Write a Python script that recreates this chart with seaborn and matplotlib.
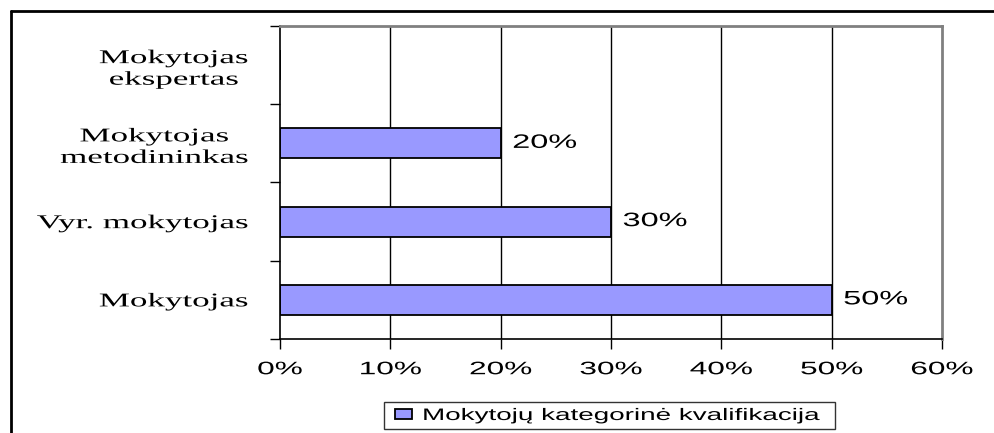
import matplotlib
matplotlib.use("Agg")
import matplotlib.pyplot as plt
import seaborn as sns
import pandas as pd
from matplotlib.lines import Line2D
from matplotlib.patches import Patch
from matplotlib.legend_handler import HandlerPatch
from matplotlib.patheffects import AbstractPathEffect
from matplotlib.transforms import Affine2D

categories = ["Mokytojas\nekspertas", "Mokytojas\nmetodininkas", "Vyr. mokytojas", "Mokytojas"]
values = [0, 20, 30, 50]
value_labels = ["", "20%", "30%", "50%"]
x_ticks = [0, 10, 20, 30, 40, 50, 60]
x_tick_labels = ["0%", "10%", "20%", "30%", "40%", "50%", "60%"]
legend_label = "Mokytojų kategorinė kvalifikacija"


class Stretch(AbstractPathEffect):
    """Horizontally widen the rendered glyphs about a fixed display x."""
    def __init__(self, sx, x0):
        super().__init__()
        self.sx = sx
        self.x0 = x0

    def draw_path(self, renderer, gc, tpath, affine, rgbFace=None):
        t = affine + Affine2D().translate(-self.x0, 0).scale(self.sx, 1).translate(self.x0, 0)
        renderer.draw_path(gc, tpath, t, rgbFace)


df = pd.DataFrame({"cat": categories, "val": values})

sns.set_theme(style="white")
plt.rcParams["font.family"] = ["Liberation Sans", "DejaVu Sans"]

W, H = 995, 433
fig = plt.figure(figsize=(W / 100, H / 100), dpi=100)
ax = fig.add_axes([280 / W, 1 - 339 / H, (942 - 280) / W, (339 - 26) / H])

sns.barplot(data=df, x="val", y="cat", orient="h", order=categories,
            color="#9999FF", edgecolor="black", linewidth=1.3,
            width=0.385, saturation=1, ax=ax)

ax.set_xlim(0, 60)
ax.set_ylim(3.5, -0.5)
ax.set_xticks(x_ticks)
ax.set_xticklabels(x_tick_labels, fontsize=13)
ax.tick_params(axis="x", length=7, width=1, color="black", pad=9, direction="out",
               bottom=True, labelcolor="black")
for xv in x_ticks[1:-1]:
    ax.axvline(xv, color="black", lw=1, zorder=0)
ax.set_yticks(range(len(categories)))
ax.set_yticklabels(categories, fontsize=14, family=["Liberation Serif", "DejaVu Serif"],
                   multialignment="center", linespacing=1.35)
ax.tick_params(axis="y", which="major", length=0, pad=21.6, labelcolor="black")
ax.set_yticks([-0.5, 0.5, 1.5, 2.5, 3.5], minor=True)
ax.tick_params(axis="y", which="minor", length=7, width=1, color="black", direction="out", left=True)
ax.set_xlabel("")
ax.set_ylabel("")

for s in ["left", "bottom"]:
    ax.spines[s].set_color("black")
    ax.spines[s].set_linewidth(1.2)
for s in ["top", "right"]:
    ax.spines[s].set_color("#808080")
    ax.spines[s].set_linewidth(2)

ann = []
for i, (v, lab) in enumerate(zip(values, value_labels)):
    if lab:
        ann.append(ax.annotate(lab, xy=(v, i), xytext=(8.3, 0), textcoords="offset points",
                               ha="left", va="center", fontsize=14, color="black"))

handle = Patch(facecolor="#9999FF", edgecolor="black", linewidth=1.3)
leg = fig.legend([handle], [legend_label], loc="center",
                 bbox_to_anchor=(384 / W, 1 - 431 / H, (835 - 384) / W, 31 / H),
                 mode="expand", borderaxespad=0,
                 handler_map={Patch: HandlerPatch(xpad=0.3)},
                 fontsize=12, frameon=True, fancybox=False, edgecolor="black",
                 handlelength=1.32, handleheight=0.55, handletextpad=0.6, borderpad=0.36)
leg.get_frame().set_linewidth(1)
for t in leg.get_texts():
    t.set_color("black")

fig.add_artist(Line2D([11 / W, 11 / W], [0, 1 - 11 / H], color="black", lw=2, transform=fig.transFigure))
fig.add_artist(Line2D([11 / W, 1], [1 - 11 / H, 1 - 11 / H], color="black", lw=2, transform=fig.transFigure))

# widen glyphs horizontally like the reference rendering
fig.canvas.draw()
r = fig.canvas.get_renderer()
for t in ax.get_xticklabels():
    bb = t.get_window_extent(r)
    t.set_path_effects([Stretch(1.75, (bb.x0 + bb.x1) / 2)])
for t in ax.get_yticklabels():
    bb = t.get_window_extent(r)
    t.set_path_effects([Stretch(1.8, bb.x1)])
for t in ann:
    bb = t.get_window_extent(r)
    t.set_path_effects([Stretch(1.67, bb.x0)])
for t in leg.get_texts():
    bb = t.get_window_extent(r)
    t.set_path_effects([Stretch(1.67, bb.x0)])

fig.savefig("out.png", dpi=100)
